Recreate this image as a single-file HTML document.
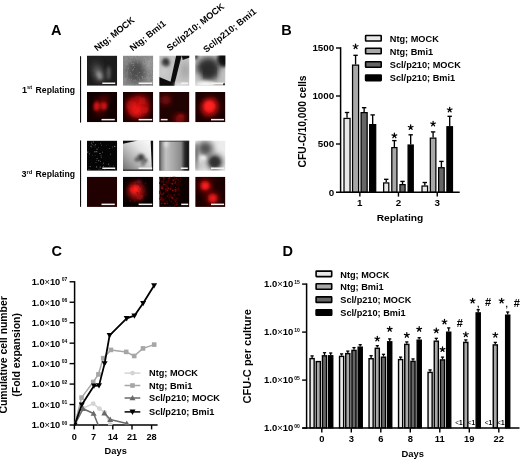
<!DOCTYPE html>
<html><head><meta charset="utf-8"><style>html,body{margin:0;padding:0;background:#fff;width:520px;height:459px;overflow:hidden}svg{display:block;filter:blur(0.35px)}</style></head>
<body><svg width="520" height="459" viewBox="0 0 520 459" font-family="'Liberation Sans', sans-serif" font-weight="bold" fill="#000">
<defs><filter id="b1" x="-50%" y="-50%" width="200%" height="200%"><feGaussianBlur stdDeviation="1.6"/></filter><filter id="b2" x="-50%" y="-50%" width="200%" height="200%"><feGaussianBlur stdDeviation="3"/></filter><filter id="b05" x="-50%" y="-50%" width="200%" height="200%"><feGaussianBlur stdDeviation="0.6"/></filter><clipPath id="c00"><rect x="87" y="55.6" width="30.2" height="30.2"/></clipPath><clipPath id="c01"><rect x="87" y="92" width="30.2" height="30.2"/></clipPath><clipPath id="c02"><rect x="87" y="140.6" width="30.2" height="30.2"/></clipPath><clipPath id="c03"><rect x="87" y="176.7" width="30.2" height="30.2"/></clipPath><clipPath id="c10"><rect x="123" y="55.6" width="30.2" height="30.2"/></clipPath><clipPath id="c11"><rect x="123" y="92" width="30.2" height="30.2"/></clipPath><clipPath id="c12"><rect x="123" y="140.6" width="30.2" height="30.2"/></clipPath><clipPath id="c13"><rect x="123" y="176.7" width="30.2" height="30.2"/></clipPath><clipPath id="c20"><rect x="159.2" y="55.6" width="30.2" height="30.2"/></clipPath><clipPath id="c21"><rect x="159.2" y="92" width="30.2" height="30.2"/></clipPath><clipPath id="c22"><rect x="159.2" y="140.6" width="30.2" height="30.2"/></clipPath><clipPath id="c23"><rect x="159.2" y="176.7" width="30.2" height="30.2"/></clipPath><clipPath id="c30"><rect x="195.2" y="55.6" width="30.2" height="30.2"/></clipPath><clipPath id="c31"><rect x="195.2" y="92" width="30.2" height="30.2"/></clipPath><clipPath id="c32"><rect x="195.2" y="140.6" width="30.2" height="30.2"/></clipPath><clipPath id="c33"><rect x="195.2" y="176.7" width="30.2" height="30.2"/></clipPath><linearGradient id="g12" x1="1" y1="0" x2="0" y2="1"><stop offset="0" stop-color="#ffffff"/><stop offset="0.35" stop-color="#e4e4e4"/><stop offset="0.7" stop-color="#a8a8a8"/><stop offset="1" stop-color="#6c6c6c"/></linearGradient><linearGradient id="g22" x1="0" y1="0" x2="1" y2="0"><stop offset="0" stop-color="#404040"/><stop offset="0.08" stop-color="#8a8a8a"/><stop offset="0.22" stop-color="#c2c2c2"/><stop offset="0.5" stop-color="#a4a4a4"/><stop offset="0.72" stop-color="#8a8a8a"/><stop offset="0.85" stop-color="#2a2a2a"/><stop offset="0.95" stop-color="#161616"/><stop offset="1" stop-color="#303030"/></linearGradient><clipPath id="cp"><rect x="74" y="270" width="90" height="155.3"/></clipPath></defs>
<rect width="520" height="459" fill="#fff"/>
<text x="51" y="35.3" font-size="14.5" >A</text>
<text x="281.3" y="35.4" font-size="14.5" >B</text>
<text x="51.6" y="255.8" font-size="14.5" >C</text>
<text x="282.6" y="255.8" font-size="14.5" >D</text>
<text x="0" y="0" font-size="9.1" transform="translate(97.2,51.4) rotate(-38.5)">Ntg; MOCK</text>
<text x="0" y="0" font-size="9.1" transform="translate(132.8,51.4) rotate(-38.5)">Ntg; Bmi1</text>
<text x="0" y="0" font-size="9.1" transform="translate(169.8,51.4) rotate(-38.5)">Scl/p210; MOCK</text>
<text x="0" y="0" font-size="9.1" transform="translate(206.3,52.9) rotate(-38.5)">Scl/p210; Bmi1</text>
<text x="22" y="92.5" font-size="9">1<tspan font-size="5.7" dy="-3.3">st</tspan></text>
<text x="35.6" y="92.5" font-size="8.9" textLength="39.4" lengthAdjust="spacingAndGlyphs">Replating</text>
<text x="21.5" y="177.2" font-size="9">3<tspan font-size="5.7" dy="-3.3">rd</tspan></text>
<text x="35.6" y="177.2" font-size="8.9" textLength="39.4" lengthAdjust="spacingAndGlyphs">Replating</text>
<rect x="80" y="56.2" width="1.1" height="66.4" fill="#111"/>
<rect x="80" y="140.4" width="1.1" height="66.4" fill="#111"/>
<g clip-path="url(#c00)"><rect x="87" y="55.6" width="30.2" height="30.2" fill="#1c1c1c"/><ellipse cx="95.0" cy="63.6" rx="6" ry="5" fill="#2a2a2a" opacity="1" filter="url(#b2)"/><ellipse cx="98.5" cy="73.6" rx="4" ry="8" fill="#7a7a7a" opacity="1" filter="url(#b2)" transform="rotate(-20 98.5 73.6)"/><ellipse cx="99.5" cy="75.6" rx="2" ry="4" fill="#9a9a9a" opacity="1" filter="url(#b1)" transform="rotate(-20 99.5 75.6)"/><ellipse cx="108.7" cy="73.1" rx="1.8" ry="7" fill="#606060" opacity="1" filter="url(#b1)"/></g>
<rect x="102.3" y="82.5" width="12.900000000000006" height="1.5" fill="#f2f2f2"/>
<g clip-path="url(#c10)"><rect x="123" y="55.6" width="30.2" height="30.2" fill="#8c8c8c"/><ellipse cx="136.0" cy="71.6" rx="10" ry="11" fill="#4e4e4e" opacity="1" filter="url(#b2)"/><ellipse cx="149.0" cy="63.6" rx="4" ry="6" fill="#a4a4a4" opacity="1" filter="url(#b2)"/><rect x="130.1" y="71.9" width="0.9" height="0.9" fill="#a0a0a0" opacity="0.45"/><rect x="141.8" y="57.6" width="0.8" height="0.8" fill="#a0a0a0" opacity="0.45"/><rect x="130.8" y="62.6" width="1.2" height="1.2" fill="#a0a0a0" opacity="0.45"/><rect x="139.2" y="72.1" width="1.0" height="1.0" fill="#b0b0b0" opacity="0.45"/><rect x="130.0" y="60.1" width="1.2" height="1.2" fill="#a0a0a0" opacity="0.45"/><rect x="145.2" y="75.7" width="0.8" height="0.8" fill="#6a6a6a" opacity="0.45"/><rect x="132.0" y="56.5" width="1.1" height="1.1" fill="#a0a0a0" opacity="0.45"/><rect x="140.8" y="83.2" width="1.0" height="1.0" fill="#a0a0a0" opacity="0.45"/><rect x="134.8" y="79.6" width="1.0" height="1.0" fill="#b0b0b0" opacity="0.45"/><rect x="149.4" y="58.5" width="0.9" height="0.9" fill="#b0b0b0" opacity="0.45"/><rect x="130.7" y="75.8" width="1.1" height="1.1" fill="#7c7c7c" opacity="0.45"/><rect x="135.6" y="80.6" width="1.0" height="1.0" fill="#a0a0a0" opacity="0.45"/><rect x="140.5" y="82.7" width="1.1" height="1.1" fill="#6a6a6a" opacity="0.45"/><rect x="148.7" y="85.3" width="1.1" height="1.1" fill="#b0b0b0" opacity="0.45"/><rect x="144.0" y="65.4" width="1.0" height="1.0" fill="#6a6a6a" opacity="0.45"/><rect x="144.4" y="61.9" width="1.1" height="1.1" fill="#7c7c7c" opacity="0.45"/><rect x="131.5" y="57.5" width="1.1" height="1.1" fill="#a0a0a0" opacity="0.45"/><rect x="125.7" y="79.6" width="1.0" height="1.0" fill="#b0b0b0" opacity="0.45"/><rect x="123.6" y="68.4" width="1.0" height="1.0" fill="#6a6a6a" opacity="0.45"/><rect x="124.3" y="74.0" width="0.8" height="0.8" fill="#7c7c7c" opacity="0.45"/><rect x="139.5" y="83.3" width="0.9" height="0.9" fill="#b0b0b0" opacity="0.45"/><rect x="153.0" y="64.9" width="0.8" height="0.8" fill="#6a6a6a" opacity="0.45"/><rect x="151.5" y="84.7" width="0.9" height="0.9" fill="#7c7c7c" opacity="0.45"/><rect x="127.7" y="56.9" width="1.1" height="1.1" fill="#7c7c7c" opacity="0.45"/><rect x="133.8" y="59.7" width="1.1" height="1.1" fill="#a0a0a0" opacity="0.45"/><rect x="136.8" y="71.2" width="1.1" height="1.1" fill="#6a6a6a" opacity="0.45"/><rect x="141.6" y="83.8" width="1.0" height="1.0" fill="#a0a0a0" opacity="0.45"/><rect x="142.0" y="77.1" width="1.2" height="1.2" fill="#a0a0a0" opacity="0.45"/><rect x="152.3" y="71.2" width="1.0" height="1.0" fill="#6a6a6a" opacity="0.45"/><rect x="146.7" y="85.2" width="0.9" height="0.9" fill="#a0a0a0" opacity="0.45"/><rect x="141.5" y="74.6" width="0.8" height="0.8" fill="#7c7c7c" opacity="0.45"/><rect x="137.0" y="76.0" width="0.9" height="0.9" fill="#7c7c7c" opacity="0.45"/><rect x="145.1" y="56.3" width="0.8" height="0.8" fill="#6a6a6a" opacity="0.45"/><rect x="151.9" y="63.1" width="1.0" height="1.0" fill="#7c7c7c" opacity="0.45"/><rect x="128.3" y="61.2" width="1.1" height="1.1" fill="#7c7c7c" opacity="0.45"/><rect x="132.0" y="66.9" width="1.1" height="1.1" fill="#6a6a6a" opacity="0.45"/><rect x="152.1" y="76.1" width="0.9" height="0.9" fill="#b0b0b0" opacity="0.45"/><rect x="142.6" y="63.7" width="0.9" height="0.9" fill="#a0a0a0" opacity="0.45"/><rect x="142.5" y="58.5" width="1.0" height="1.0" fill="#7c7c7c" opacity="0.45"/><rect x="143.2" y="62.3" width="1.1" height="1.1" fill="#b0b0b0" opacity="0.45"/><rect x="125.4" y="77.9" width="0.9" height="0.9" fill="#a0a0a0" opacity="0.45"/><rect x="131.1" y="79.2" width="0.8" height="0.8" fill="#b0b0b0" opacity="0.45"/><rect x="132.5" y="80.7" width="1.0" height="1.0" fill="#7c7c7c" opacity="0.45"/><rect x="133.2" y="80.4" width="0.8" height="0.8" fill="#7c7c7c" opacity="0.45"/><rect x="140.7" y="68.2" width="1.0" height="1.0" fill="#7c7c7c" opacity="0.45"/><rect x="136.9" y="74.6" width="0.9" height="0.9" fill="#a0a0a0" opacity="0.45"/><rect x="124.1" y="68.0" width="0.9" height="0.9" fill="#a0a0a0" opacity="0.45"/><rect x="151.3" y="82.0" width="1.2" height="1.2" fill="#a0a0a0" opacity="0.45"/><rect x="139.8" y="85.2" width="1.1" height="1.1" fill="#6a6a6a" opacity="0.45"/><rect x="145.4" y="80.7" width="1.1" height="1.1" fill="#7c7c7c" opacity="0.45"/><rect x="139.3" y="82.3" width="1.1" height="1.1" fill="#7c7c7c" opacity="0.45"/><rect x="126.6" y="62.9" width="0.8" height="0.8" fill="#b0b0b0" opacity="0.45"/><rect x="149.9" y="82.6" width="1.0" height="1.0" fill="#6a6a6a" opacity="0.45"/><rect x="137.4" y="59.2" width="1.0" height="1.0" fill="#b0b0b0" opacity="0.45"/><rect x="142.9" y="71.3" width="1.0" height="1.0" fill="#6a6a6a" opacity="0.45"/><rect x="133.2" y="63.2" width="1.1" height="1.1" fill="#a0a0a0" opacity="0.45"/><rect x="147.3" y="57.4" width="0.9" height="0.9" fill="#6a6a6a" opacity="0.45"/><rect x="139.0" y="80.1" width="0.9" height="0.9" fill="#7c7c7c" opacity="0.45"/><rect x="150.7" y="79.8" width="1.1" height="1.1" fill="#6a6a6a" opacity="0.45"/><rect x="137.6" y="72.7" width="1.0" height="1.0" fill="#7c7c7c" opacity="0.45"/><rect x="130.4" y="74.1" width="1.0" height="1.0" fill="#6a6a6a" opacity="0.45"/><rect x="137.2" y="78.9" width="0.8" height="0.8" fill="#6a6a6a" opacity="0.45"/><rect x="146.3" y="57.0" width="0.8" height="0.8" fill="#a0a0a0" opacity="0.45"/><rect x="152.2" y="81.2" width="0.8" height="0.8" fill="#a0a0a0" opacity="0.45"/><rect x="132.5" y="65.0" width="0.9" height="0.9" fill="#a0a0a0" opacity="0.45"/><rect x="140.6" y="66.4" width="0.9" height="0.9" fill="#7c7c7c" opacity="0.45"/><rect x="135.9" y="59.4" width="0.8" height="0.8" fill="#a0a0a0" opacity="0.45"/><rect x="146.9" y="72.6" width="0.8" height="0.8" fill="#a0a0a0" opacity="0.45"/><rect x="141.1" y="79.1" width="1.0" height="1.0" fill="#6a6a6a" opacity="0.45"/><rect x="141.7" y="68.5" width="0.9" height="0.9" fill="#a0a0a0" opacity="0.45"/><rect x="145.8" y="65.0" width="1.2" height="1.2" fill="#a0a0a0" opacity="0.45"/><rect x="136.8" y="63.0" width="1.0" height="1.0" fill="#6a6a6a" opacity="0.45"/><rect x="147.1" y="62.3" width="0.9" height="0.9" fill="#6a6a6a" opacity="0.45"/><rect x="151.1" y="66.8" width="1.2" height="1.2" fill="#7c7c7c" opacity="0.45"/><rect x="126.6" y="76.3" width="1.2" height="1.2" fill="#a0a0a0" opacity="0.45"/><rect x="143.0" y="77.6" width="1.0" height="1.0" fill="#6a6a6a" opacity="0.45"/><rect x="147.3" y="77.1" width="1.0" height="1.0" fill="#b0b0b0" opacity="0.45"/><rect x="146.2" y="56.9" width="0.8" height="0.8" fill="#6a6a6a" opacity="0.45"/><rect x="142.8" y="66.9" width="1.1" height="1.1" fill="#7c7c7c" opacity="0.45"/><rect x="148.2" y="59.2" width="1.1" height="1.1" fill="#a0a0a0" opacity="0.45"/><rect x="148.1" y="84.2" width="1.0" height="1.0" fill="#6a6a6a" opacity="0.45"/><rect x="124.1" y="78.6" width="1.0" height="1.0" fill="#b0b0b0" opacity="0.45"/><rect x="126.2" y="78.1" width="1.2" height="1.2" fill="#6a6a6a" opacity="0.45"/><rect x="139.5" y="81.7" width="0.9" height="0.9" fill="#6a6a6a" opacity="0.45"/><rect x="130.3" y="61.0" width="0.9" height="0.9" fill="#a0a0a0" opacity="0.45"/><rect x="130.6" y="73.6" width="1.2" height="1.2" fill="#a0a0a0" opacity="0.45"/><rect x="152.0" y="66.9" width="0.9" height="0.9" fill="#a0a0a0" opacity="0.45"/><rect x="148.3" y="84.6" width="1.0" height="1.0" fill="#a0a0a0" opacity="0.45"/><rect x="127.7" y="67.6" width="1.2" height="1.2" fill="#b0b0b0" opacity="0.45"/><rect x="125.9" y="78.0" width="1.2" height="1.2" fill="#a0a0a0" opacity="0.45"/><rect x="140.6" y="81.3" width="0.9" height="0.9" fill="#b0b0b0" opacity="0.45"/><rect x="127.4" y="71.1" width="1.2" height="1.2" fill="#7c7c7c" opacity="0.45"/><rect x="143.1" y="81.3" width="1.0" height="1.0" fill="#7c7c7c" opacity="0.45"/><rect x="149.7" y="64.8" width="0.9" height="0.9" fill="#a0a0a0" opacity="0.45"/><rect x="129.0" y="72.7" width="0.9" height="0.9" fill="#a0a0a0" opacity="0.45"/><rect x="146.2" y="59.9" width="1.2" height="1.2" fill="#a0a0a0" opacity="0.45"/><rect x="144.0" y="61.8" width="1.0" height="1.0" fill="#6a6a6a" opacity="0.45"/><rect x="137.4" y="77.2" width="1.1" height="1.1" fill="#a0a0a0" opacity="0.45"/><rect x="146.5" y="82.1" width="0.8" height="0.8" fill="#b0b0b0" opacity="0.45"/><rect x="149.7" y="75.0" width="1.1" height="1.1" fill="#6a6a6a" opacity="0.45"/><rect x="151.8" y="81.2" width="0.9" height="0.9" fill="#b0b0b0" opacity="0.45"/><rect x="146.3" y="59.7" width="1.0" height="1.0" fill="#6a6a6a" opacity="0.45"/><rect x="150.0" y="63.3" width="1.1" height="1.1" fill="#7c7c7c" opacity="0.45"/><rect x="128.5" y="58.3" width="1.1" height="1.1" fill="#6a6a6a" opacity="0.45"/><rect x="125.8" y="80.6" width="0.9" height="0.9" fill="#7c7c7c" opacity="0.45"/><rect x="136.6" y="77.6" width="0.9" height="0.9" fill="#6a6a6a" opacity="0.45"/><rect x="133.0" y="68.7" width="1.0" height="1.0" fill="#b0b0b0" opacity="0.45"/><rect x="142.3" y="77.9" width="1.0" height="1.0" fill="#b0b0b0" opacity="0.45"/><rect x="139.3" y="59.2" width="0.9" height="0.9" fill="#a0a0a0" opacity="0.45"/><rect x="126.4" y="82.2" width="1.2" height="1.2" fill="#6a6a6a" opacity="0.45"/><rect x="138.8" y="76.6" width="1.1" height="1.1" fill="#7c7c7c" opacity="0.45"/><rect x="145.7" y="64.5" width="1.1" height="1.1" fill="#7c7c7c" opacity="0.45"/><rect x="126.2" y="83.9" width="0.9" height="0.9" fill="#6a6a6a" opacity="0.45"/><rect x="143.0" y="70.9" width="0.8" height="0.8" fill="#7c7c7c" opacity="0.45"/><rect x="143.4" y="72.6" width="0.9" height="0.9" fill="#b0b0b0" opacity="0.45"/><rect x="128.4" y="82.3" width="1.1" height="1.1" fill="#6a6a6a" opacity="0.45"/><rect x="126.2" y="72.4" width="1.2" height="1.2" fill="#a0a0a0" opacity="0.45"/><rect x="139.6" y="75.0" width="1.0" height="1.0" fill="#7c7c7c" opacity="0.45"/><rect x="146.5" y="76.8" width="0.8" height="0.8" fill="#b0b0b0" opacity="0.45"/><rect x="145.6" y="71.9" width="1.1" height="1.1" fill="#7c7c7c" opacity="0.45"/><rect x="126.0" y="63.7" width="0.8" height="0.8" fill="#b0b0b0" opacity="0.45"/><rect x="124.3" y="70.7" width="0.9" height="0.9" fill="#7c7c7c" opacity="0.45"/><rect x="149.3" y="84.0" width="1.0" height="1.0" fill="#6a6a6a" opacity="0.45"/><rect x="133.6" y="81.0" width="0.8" height="0.8" fill="#7c7c7c" opacity="0.45"/><rect x="140.7" y="76.0" width="1.0" height="1.0" fill="#6a6a6a" opacity="0.45"/><rect x="128.5" y="61.3" width="1.0" height="1.0" fill="#a0a0a0" opacity="0.45"/><rect x="147.5" y="78.1" width="1.0" height="1.0" fill="#b0b0b0" opacity="0.45"/><rect x="148.8" y="79.5" width="1.0" height="1.0" fill="#b0b0b0" opacity="0.45"/><rect x="140.1" y="61.7" width="0.9" height="0.9" fill="#7c7c7c" opacity="0.45"/><rect x="123.9" y="79.7" width="1.2" height="1.2" fill="#a0a0a0" opacity="0.45"/><rect x="132.5" y="82.8" width="0.9" height="0.9" fill="#a0a0a0" opacity="0.45"/><rect x="152.3" y="76.2" width="0.9" height="0.9" fill="#a0a0a0" opacity="0.45"/><rect x="123.9" y="61.3" width="1.1" height="1.1" fill="#6a6a6a" opacity="0.45"/><rect x="146.1" y="75.5" width="1.0" height="1.0" fill="#a0a0a0" opacity="0.45"/><rect x="129.0" y="79.1" width="0.9" height="0.9" fill="#a0a0a0" opacity="0.45"/><rect x="126.3" y="64.1" width="1.1" height="1.1" fill="#b0b0b0" opacity="0.45"/><rect x="127.1" y="79.4" width="1.0" height="1.0" fill="#6a6a6a" opacity="0.45"/><rect x="123.8" y="74.2" width="1.0" height="1.0" fill="#a0a0a0" opacity="0.45"/><rect x="139.2" y="83.5" width="0.9" height="0.9" fill="#7c7c7c" opacity="0.45"/><rect x="143.8" y="59.6" width="1.1" height="1.1" fill="#6a6a6a" opacity="0.45"/><rect x="144.5" y="77.8" width="0.9" height="0.9" fill="#b0b0b0" opacity="0.45"/><rect x="151.0" y="81.4" width="1.0" height="1.0" fill="#b0b0b0" opacity="0.45"/><rect x="137.6" y="58.9" width="0.8" height="0.8" fill="#6a6a6a" opacity="0.45"/><rect x="148.4" y="76.8" width="1.0" height="1.0" fill="#a0a0a0" opacity="0.45"/><rect x="144.0" y="71.7" width="1.0" height="1.0" fill="#a0a0a0" opacity="0.45"/><rect x="132.1" y="69.5" width="1.1" height="1.1" fill="#a0a0a0" opacity="0.45"/><rect x="136.2" y="69.3" width="0.8" height="0.8" fill="#7c7c7c" opacity="0.45"/><rect x="134.0" y="66.7" width="1.0" height="1.0" fill="#a0a0a0" opacity="0.45"/><rect x="129.7" y="55.7" width="0.9" height="0.9" fill="#7c7c7c" opacity="0.45"/><rect x="127.3" y="69.4" width="0.9" height="0.9" fill="#b0b0b0" opacity="0.45"/><rect x="123.7" y="73.1" width="1.0" height="1.0" fill="#6a6a6a" opacity="0.45"/><rect x="127.2" y="73.9" width="1.0" height="1.0" fill="#b0b0b0" opacity="0.45"/><rect x="124.8" y="56.3" width="1.0" height="1.0" fill="#a0a0a0" opacity="0.45"/><rect x="124.0" y="77.0" width="0.9" height="0.9" fill="#6a6a6a" opacity="0.45"/><rect x="134.9" y="56.4" width="1.2" height="1.2" fill="#b0b0b0" opacity="0.45"/><rect x="130.2" y="67.3" width="0.9" height="0.9" fill="#7c7c7c" opacity="0.45"/><rect x="141.7" y="66.0" width="0.8" height="0.8" fill="#6a6a6a" opacity="0.45"/><rect x="147.2" y="64.3" width="1.2" height="1.2" fill="#a0a0a0" opacity="0.45"/><rect x="146.7" y="84.4" width="1.0" height="1.0" fill="#7c7c7c" opacity="0.45"/><rect x="123.9" y="65.7" width="1.2" height="1.2" fill="#7c7c7c" opacity="0.45"/><rect x="125.8" y="76.1" width="1.2" height="1.2" fill="#6a6a6a" opacity="0.45"/><rect x="126.1" y="76.0" width="0.8" height="0.8" fill="#6a6a6a" opacity="0.45"/><rect x="137.5" y="61.3" width="1.0" height="1.0" fill="#7c7c7c" opacity="0.45"/><rect x="129.0" y="84.8" width="1.0" height="1.0" fill="#a0a0a0" opacity="0.45"/><rect x="150.5" y="83.8" width="0.8" height="0.8" fill="#7c7c7c" opacity="0.45"/><rect x="145.5" y="74.5" width="1.0" height="1.0" fill="#7c7c7c" opacity="0.45"/><rect x="128.5" y="68.0" width="1.0" height="1.0" fill="#7c7c7c" opacity="0.45"/><rect x="139.1" y="79.0" width="1.0" height="1.0" fill="#a0a0a0" opacity="0.45"/><rect x="148.1" y="72.2" width="1.2" height="1.2" fill="#7c7c7c" opacity="0.45"/><rect x="147.1" y="68.8" width="1.0" height="1.0" fill="#a0a0a0" opacity="0.45"/><rect x="133.4" y="80.2" width="1.0" height="1.0" fill="#a0a0a0" opacity="0.45"/><rect x="151.5" y="56.9" width="0.9" height="0.9" fill="#6a6a6a" opacity="0.45"/><rect x="147.7" y="58.4" width="1.1" height="1.1" fill="#6a6a6a" opacity="0.45"/><rect x="132.6" y="73.6" width="1.1" height="1.1" fill="#6a6a6a" opacity="0.45"/><rect x="149.4" y="81.8" width="1.0" height="1.0" fill="#7c7c7c" opacity="0.45"/><rect x="152.9" y="55.6" width="0.9" height="0.9" fill="#6a6a6a" opacity="0.45"/><rect x="133.2" y="64.9" width="1.0" height="1.0" fill="#b0b0b0" opacity="0.45"/><rect x="130.2" y="57.1" width="0.9" height="0.9" fill="#b0b0b0" opacity="0.45"/><rect x="140.6" y="55.9" width="0.9" height="0.9" fill="#b0b0b0" opacity="0.45"/><rect x="129.6" y="72.5" width="1.0" height="1.0" fill="#7c7c7c" opacity="0.45"/><rect x="146.7" y="71.7" width="0.9" height="0.9" fill="#b0b0b0" opacity="0.45"/><rect x="141.7" y="56.8" width="1.1" height="1.1" fill="#6a6a6a" opacity="0.45"/><rect x="148.8" y="58.6" width="1.2" height="1.2" fill="#7c7c7c" opacity="0.45"/><rect x="125.6" y="69.6" width="0.9" height="0.9" fill="#6a6a6a" opacity="0.45"/><rect x="142.3" y="78.4" width="1.1" height="1.1" fill="#7c7c7c" opacity="0.45"/><rect x="135.1" y="75.4" width="1.1" height="1.1" fill="#7c7c7c" opacity="0.45"/><rect x="148.1" y="73.4" width="1.1" height="1.1" fill="#b0b0b0" opacity="0.45"/><rect x="126.5" y="55.8" width="0.9" height="0.9" fill="#6a6a6a" opacity="0.45"/><rect x="133.2" y="61.4" width="1.1" height="1.1" fill="#7c7c7c" opacity="0.45"/><rect x="135.7" y="75.1" width="1.0" height="1.0" fill="#b0b0b0" opacity="0.45"/><rect x="130.5" y="80.7" width="0.8" height="0.8" fill="#b0b0b0" opacity="0.45"/><rect x="135.9" y="58.1" width="0.9" height="0.9" fill="#b0b0b0" opacity="0.45"/><rect x="145.5" y="61.8" width="0.9" height="0.9" fill="#a0a0a0" opacity="0.45"/><rect x="150.9" y="71.7" width="1.0" height="1.0" fill="#b0b0b0" opacity="0.45"/><rect x="150.1" y="84.1" width="1.0" height="1.0" fill="#a0a0a0" opacity="0.45"/><rect x="137.1" y="73.2" width="0.8" height="0.8" fill="#6a6a6a" opacity="0.45"/><rect x="128.5" y="58.5" width="1.1" height="1.1" fill="#7c7c7c" opacity="0.45"/><rect x="138.1" y="57.4" width="1.0" height="1.0" fill="#b0b0b0" opacity="0.45"/><rect x="145.4" y="63.9" width="1.0" height="1.0" fill="#7c7c7c" opacity="0.45"/><rect x="137.0" y="61.5" width="1.1" height="1.1" fill="#b0b0b0" opacity="0.45"/><rect x="126.1" y="64.6" width="1.0" height="1.0" fill="#6a6a6a" opacity="0.45"/><rect x="129.2" y="70.2" width="1.1" height="1.1" fill="#7c7c7c" opacity="0.45"/><rect x="152.3" y="85.0" width="1.2" height="1.2" fill="#7c7c7c" opacity="0.45"/><rect x="151.3" y="68.5" width="1.2" height="1.2" fill="#a0a0a0" opacity="0.45"/><rect x="138.8" y="71.9" width="0.9" height="0.9" fill="#7c7c7c" opacity="0.45"/><rect x="131.6" y="69.5" width="1.2" height="1.2" fill="#7c7c7c" opacity="0.45"/><rect x="145.4" y="83.5" width="1.0" height="1.0" fill="#6a6a6a" opacity="0.45"/><rect x="126.9" y="71.5" width="1.0" height="1.0" fill="#b0b0b0" opacity="0.45"/><rect x="151.5" y="55.7" width="1.2" height="1.2" fill="#a0a0a0" opacity="0.45"/><rect x="133.6" y="84.6" width="0.9" height="0.9" fill="#6a6a6a" opacity="0.45"/><rect x="137.7" y="62.8" width="0.9" height="0.9" fill="#7c7c7c" opacity="0.45"/><rect x="148.1" y="73.7" width="1.1" height="1.1" fill="#a0a0a0" opacity="0.45"/><rect x="132.3" y="63.0" width="1.1" height="1.1" fill="#a0a0a0" opacity="0.45"/><rect x="144.7" y="65.8" width="0.8" height="0.8" fill="#6a6a6a" opacity="0.45"/><rect x="141.8" y="75.9" width="1.2" height="1.2" fill="#b0b0b0" opacity="0.45"/><rect x="151.6" y="77.9" width="1.1" height="1.1" fill="#a0a0a0" opacity="0.45"/><rect x="138.3" y="80.5" width="1.0" height="1.0" fill="#7c7c7c" opacity="0.45"/><rect x="123.5" y="57.0" width="1.0" height="1.0" fill="#6a6a6a" opacity="0.45"/><rect x="149.9" y="82.8" width="1.0" height="1.0" fill="#a0a0a0" opacity="0.45"/><rect x="134.1" y="74.6" width="0.9" height="0.9" fill="#6a6a6a" opacity="0.45"/></g>
<rect x="138.6" y="82.5" width="13.599999999999994" height="1.5" fill="#f2f2f2"/>
<g clip-path="url(#c20)"><rect x="159.2" y="55.6" width="30.2" height="30.2" fill="#c2c2c2"/><ellipse cx="165.7" cy="62.6" rx="4" ry="4.5" fill="#2e2e2e" opacity="1" filter="url(#b1)"/><ellipse cx="163.2" cy="71.6" rx="4" ry="6" fill="#d0d0d0" opacity="1" filter="url(#b2)"/><polygon points="176.2,55.6 181.7,55.6 174.7,83.1 170.2,83.1" fill="#0c0c0c"/><polygon points="159.2,77.1 171.2,82.1 175.2,83.4 174.2,86.1 159.2,86.1" fill="#0c0c0c"/><polygon points="181.7,55.6 189.7,55.6 189.7,57.6 182.7,60.1" fill="#0c0c0c"/><ellipse cx="185.2" cy="70.6" rx="3" ry="8" fill="#9a9a9a" opacity="1" filter="url(#b2)"/><ellipse cx="181.2" cy="84.6" rx="8" ry="1.6" fill="#e8e8e8" opacity="1" filter="url(#b1)"/></g>
<rect x="181.2" y="82.5" width="7.0" height="1.5" fill="#f2f2f2"/>
<g clip-path="url(#c30)"><rect x="195.2" y="55.6" width="30.2" height="30.2" fill="#c0c0c0"/><ellipse cx="223.2" cy="59.6" rx="6" ry="8" fill="#080808" opacity="1" filter="url(#b1)"/><ellipse cx="195.7" cy="56.6" rx="2" ry="3" fill="#202020" opacity="1" filter="url(#b1)"/><ellipse cx="208.7" cy="69.1" rx="12" ry="11.5" fill="#363636" opacity="1" filter="url(#b2)"/><ellipse cx="207.2" cy="69.6" rx="7" ry="7" fill="#2a2a2a" opacity="1" filter="url(#b2)"/><ellipse cx="205.2" cy="84.1" rx="10" ry="3" fill="#f4f4f4" opacity="1" filter="url(#b1)"/><ellipse cx="197.7" cy="77.6" rx="2.5" ry="5" fill="#d8d8d8" opacity="1" filter="url(#b2)"/><ellipse cx="222.2" cy="73.6" rx="2.5" ry="6" fill="#d0d0d0" opacity="1" filter="url(#b2)"/></g>
<rect x="211" y="82.5" width="13" height="1.5" fill="#f2f2f2"/>
<circle cx="224.0" cy="84.2" r="1" fill="#222"/>
<g clip-path="url(#c01)"><rect x="87" y="92" width="30.2" height="30.2" fill="#120000"/><ellipse cx="97.0" cy="106.5" rx="3.4" ry="5" fill="#ec1414" opacity="1" filter="url(#b1)"/><ellipse cx="103.6" cy="106.0" rx="3.6" ry="4.6" fill="#d81212" opacity="1" filter="url(#b1)"/><ellipse cx="105.0" cy="99.5" rx="3" ry="3" fill="#a01010" opacity="1" filter="url(#b2)"/><ellipse cx="99.0" cy="101.0" rx="3" ry="3" fill="#800808" opacity="1" filter="url(#b2)"/><ellipse cx="100.0" cy="112.0" rx="5" ry="3" fill="#600404" opacity="1" filter="url(#b2)"/></g>
<rect x="101.5" y="118.9" width="13.299999999999997" height="1.5" fill="#f2f2f2"/>
<g clip-path="url(#c11)"><rect x="123" y="92" width="30.2" height="30.2" fill="#1c0000"/><ellipse cx="138.0" cy="107.0" rx="11" ry="11" fill="#b80e0e" opacity="1" filter="url(#b2)"/><ellipse cx="136.0" cy="110.0" rx="6" ry="5" fill="#ff1a1a" opacity="1" filter="url(#b2)"/><ellipse cx="142.0" cy="101.0" rx="4" ry="4" fill="#c81010" opacity="1" filter="url(#b2)"/><ellipse cx="131.0" cy="105.0" rx="3" ry="5" fill="#d01212" opacity="1" filter="url(#b2)"/><ellipse cx="145.0" cy="110.0" rx="3" ry="3" fill="#c01010" opacity="1" filter="url(#b1)"/></g>
<rect x="138.6" y="118.9" width="13.599999999999994" height="1.5" fill="#f2f2f2"/>
<g clip-path="url(#c21)"><rect x="159.2" y="92" width="30.2" height="30.2" fill="#200202"/><ellipse cx="165.7" cy="100.0" rx="4" ry="4" fill="#b01414" opacity="1" filter="url(#b2)"/><ellipse cx="179.7" cy="119.0" rx="5" ry="4" fill="#c41010" opacity="1" filter="url(#b2)"/><ellipse cx="181.2" cy="116.0" rx="3" ry="2" fill="#901010" opacity="1" filter="url(#b1)"/></g>
<rect x="160.8" y="118.9" width="6.799999999999983" height="1.5" fill="#f2f2f2"/>
<g clip-path="url(#c31)"><rect x="195.2" y="92" width="30.2" height="30.2" fill="#1a0000"/><ellipse cx="209.7" cy="107.0" rx="8" ry="9" fill="#f41414" opacity="1" filter="url(#b2)" transform="rotate(30 209.7 107.0)"/><ellipse cx="209.2" cy="106.0" rx="5" ry="5" fill="#ff2424" opacity="1" filter="url(#b1)"/></g>
<rect x="211" y="118.9" width="13" height="1.5" fill="#f2f2f2"/>
<g clip-path="url(#c02)"><rect x="87" y="140.6" width="30.2" height="30.2" fill="#050505"/><rect x="107.5" y="170.4" width="0.9" height="0.9" fill="#909090" opacity="1"/><rect x="110.2" y="153.9" width="0.7" height="0.7" fill="#707070" opacity="1"/><rect x="100.6" y="169.4" width="0.7" height="0.7" fill="#707070" opacity="1"/><rect x="91.2" y="141.7" width="0.8" height="0.8" fill="#555" opacity="1"/><rect x="111.8" y="168.5" width="0.9" height="0.9" fill="#3a3a3a" opacity="1"/><rect x="96.5" y="158.5" width="0.7" height="0.7" fill="#555" opacity="1"/><rect x="95.4" y="161.9" width="1.1" height="1.1" fill="#3a3a3a" opacity="1"/><rect x="100.1" y="142.9" width="0.6" height="0.6" fill="#909090" opacity="1"/><rect x="113.9" y="169.4" width="0.9" height="0.9" fill="#555" opacity="1"/><rect x="96.3" y="151.0" width="0.9" height="0.9" fill="#909090" opacity="1"/><rect x="96.5" y="148.7" width="1.1" height="1.1" fill="#707070" opacity="1"/><rect x="96.5" y="152.4" width="0.7" height="0.7" fill="#555" opacity="1"/><rect x="99.5" y="153.0" width="1.0" height="1.0" fill="#909090" opacity="1"/><rect x="93.9" y="146.6" width="0.6" height="0.6" fill="#3a3a3a" opacity="1"/><rect x="109.3" y="165.7" width="0.9" height="0.9" fill="#3a3a3a" opacity="1"/><rect x="115.3" y="169.8" width="0.9" height="0.9" fill="#909090" opacity="1"/><rect x="95.0" y="155.1" width="0.7" height="0.7" fill="#3a3a3a" opacity="1"/><rect x="92.2" y="155.2" width="0.7" height="0.7" fill="#555" opacity="1"/><rect x="114.2" y="145.9" width="1.1" height="1.1" fill="#909090" opacity="1"/><rect x="106.4" y="144.9" width="0.6" height="0.6" fill="#555" opacity="1"/><rect x="96.3" y="160.1" width="0.7" height="0.7" fill="#555" opacity="1"/><rect x="88.5" y="169.4" width="0.9" height="0.9" fill="#909090" opacity="1"/><rect x="110.4" y="153.6" width="0.7" height="0.7" fill="#3a3a3a" opacity="1"/><rect x="95.4" y="144.5" width="0.7" height="0.7" fill="#555" opacity="1"/><rect x="98.5" y="168.7" width="0.9" height="0.9" fill="#555" opacity="1"/><rect x="87.2" y="151.7" width="0.7" height="0.7" fill="#909090" opacity="1"/><rect x="94.4" y="151.2" width="1.1" height="1.1" fill="#909090" opacity="1"/><rect x="90.1" y="166.0" width="0.8" height="0.8" fill="#707070" opacity="1"/><rect x="102.9" y="166.2" width="0.8" height="0.8" fill="#909090" opacity="1"/><rect x="100.9" y="156.7" width="0.8" height="0.8" fill="#909090" opacity="1"/><rect x="112.0" y="146.6" width="0.9" height="0.9" fill="#555" opacity="1"/><rect x="96.0" y="166.4" width="1.1" height="1.1" fill="#707070" opacity="1"/><rect x="95.0" y="146.7" width="0.6" height="0.6" fill="#3a3a3a" opacity="1"/><rect x="99.3" y="166.8" width="0.7" height="0.7" fill="#3a3a3a" opacity="1"/><rect x="91.7" y="144.3" width="0.8" height="0.8" fill="#707070" opacity="1"/><rect x="102.8" y="163.6" width="0.6" height="0.6" fill="#909090" opacity="1"/><rect x="96.8" y="158.3" width="0.7" height="0.7" fill="#909090" opacity="1"/><rect x="102.2" y="151.8" width="0.8" height="0.8" fill="#707070" opacity="1"/><rect x="108.1" y="163.7" width="1.0" height="1.0" fill="#707070" opacity="1"/><rect x="112.9" y="165.7" width="0.7" height="0.7" fill="#707070" opacity="1"/><rect x="95.1" y="144.3" width="0.9" height="0.9" fill="#707070" opacity="1"/><rect x="108.9" y="148.1" width="0.8" height="0.8" fill="#707070" opacity="1"/><rect x="100.6" y="154.9" width="0.9" height="0.9" fill="#555" opacity="1"/><rect x="116.6" y="156.5" width="0.8" height="0.8" fill="#3a3a3a" opacity="1"/><rect x="89.1" y="153.4" width="1.0" height="1.0" fill="#707070" opacity="1"/><rect x="88.8" y="166.2" width="0.8" height="0.8" fill="#3a3a3a" opacity="1"/><rect x="98.0" y="147.0" width="0.9" height="0.9" fill="#3a3a3a" opacity="1"/><rect x="99.9" y="166.6" width="1.0" height="1.0" fill="#707070" opacity="1"/><rect x="87.4" y="151.8" width="0.8" height="0.8" fill="#909090" opacity="1"/><rect x="98.2" y="160.2" width="1.0" height="1.0" fill="#909090" opacity="1"/><rect x="91.4" y="147.2" width="0.8" height="0.8" fill="#3a3a3a" opacity="1"/><rect x="91.2" y="143.0" width="0.8" height="0.8" fill="#707070" opacity="1"/><rect x="92.9" y="141.5" width="1.0" height="1.0" fill="#707070" opacity="1"/><rect x="103.0" y="162.7" width="1.0" height="1.0" fill="#555" opacity="1"/><rect x="100.2" y="161.1" width="0.7" height="0.7" fill="#909090" opacity="1"/><rect x="93.7" y="144.8" width="0.8" height="0.8" fill="#555" opacity="1"/><rect x="90.5" y="145.8" width="1.0" height="1.0" fill="#909090" opacity="1"/><rect x="87.8" y="151.1" width="0.6" height="0.6" fill="#555" opacity="1"/><rect x="101.2" y="144.8" width="0.7" height="0.7" fill="#909090" opacity="1"/><rect x="104.6" y="169.1" width="0.7" height="0.7" fill="#707070" opacity="1"/></g>
<rect x="102.3" y="167.5" width="12.900000000000006" height="1.5" fill="#f2f2f2"/>
<g clip-path="url(#c12)"><rect x="123" y="140.6" width="30.2" height="30.2" fill="#bbb"/><rect x="123" y="140.6" width="30.2" height="30.2" fill="url(#g12)"/><polygon points="123.0,140.6 138.0,140.6 123.0,143.8" fill="#0c0c0c"/><polygon points="150.6,140.6 153.5,140.6 153.5,171.1 152.0,171.1" fill="#101010"/><rect x="123" y="169.6" width="30.2" height="1.5" fill="#222"/><ellipse cx="141.0" cy="157.6" rx="3.5" ry="3.5" fill="#3a3a3a" opacity="1" filter="url(#b1)"/><ellipse cx="137.0" cy="159.6" rx="2.5" ry="2" fill="#555" opacity="1" filter="url(#b1)"/><ellipse cx="145.0" cy="160.6" rx="2.5" ry="2" fill="#4a4a4a" opacity="1" filter="url(#b1)"/><ellipse cx="143.0" cy="163.6" rx="2" ry="2" fill="#606060" opacity="1" filter="url(#b1)"/></g>
<rect x="138.6" y="167.5" width="13.599999999999994" height="1.5" fill="#f2f2f2"/>
<g clip-path="url(#c22)"><rect x="159.2" y="140.6" width="30.2" height="30.2" fill="#999"/><rect x="159.2" y="140.6" width="30.2" height="30.2" fill="url(#g22)"/><ellipse cx="166.2" cy="143.6" rx="2" ry="4" fill="#e0e0e0" opacity="1" filter="url(#b1)"/><rect x="159.2" y="140.6" width="30.2" height="1.2" fill="#333" opacity="0.7"/></g>
<rect x="180.8" y="167.5" width="7.0" height="1.5" fill="#f2f2f2"/>
<g clip-path="url(#c32)"><rect x="195.2" y="140.6" width="30.2" height="30.2" fill="#ececec"/><ellipse cx="205.2" cy="148.6" rx="8" ry="7.5" fill="#505050" opacity="1" filter="url(#b2)"/><ellipse cx="214.7" cy="162.1" rx="8" ry="7.5" fill="#383838" opacity="1" filter="url(#b2)"/><ellipse cx="214.7" cy="162.1" rx="5" ry="5" fill="#303030" opacity="1" filter="url(#b1)"/><ellipse cx="196.4" cy="156.6" rx="1.6" ry="14" fill="#5a5a5a" opacity="1" filter="url(#b1)"/><ellipse cx="203.2" cy="158.1" rx="3" ry="2.5" fill="#f4f4f4" opacity="1" filter="url(#b1)"/><ellipse cx="199.2" cy="165.6" rx="4" ry="5" fill="#b0b0b0" opacity="1" filter="url(#b2)"/></g>
<rect x="211" y="167.5" width="13" height="1.5" fill="#f2f2f2"/>
<g clip-path="url(#c03)"><rect x="87" y="176.7" width="30.2" height="30.2" fill="#200000"/></g>
<rect x="101.5" y="203.6" width="13.299999999999997" height="1.5" fill="#f2f2f2"/>
<g clip-path="url(#c13)"><rect x="123" y="176.7" width="30.2" height="30.2" fill="#060000"/><ellipse cx="136.0" cy="190.7" rx="8" ry="8.5" fill="#c81212" opacity="1" filter="url(#b2)"/><ellipse cx="135.0" cy="189.2" rx="4.5" ry="3.5" fill="#ff1c1c" opacity="1" filter="url(#b1)"/><ellipse cx="140.0" cy="196.7" rx="3" ry="3" fill="#a01010" opacity="1" filter="url(#b1)"/><ellipse cx="139.0" cy="181.7" rx="2" ry="1.5" fill="#802040" opacity="1" filter="url(#b1)"/><rect x="129.7" y="200.3" width="1.1" height="1.1" fill="#ff2020" opacity="0.4"/><rect x="129.2" y="198.4" width="1.1" height="1.1" fill="#400000" opacity="0.4"/><rect x="129.2" y="181.9" width="1.0" height="1.0" fill="#400000" opacity="0.4"/><rect x="139.4" y="183.5" width="1.1" height="1.1" fill="#400000" opacity="0.4"/><rect x="143.9" y="186.0" width="0.9" height="0.9" fill="#400000" opacity="0.4"/><rect x="145.2" y="182.7" width="1.0" height="1.0" fill="#ff2020" opacity="0.4"/><rect x="138.3" y="183.3" width="0.9" height="0.9" fill="#400000" opacity="0.4"/><rect x="142.8" y="199.1" width="1.0" height="1.0" fill="#400000" opacity="0.4"/><rect x="145.7" y="194.3" width="1.0" height="1.0" fill="#ff2020" opacity="0.4"/><rect x="138.3" y="188.2" width="1.0" height="1.0" fill="#400000" opacity="0.4"/><rect x="139.2" y="188.4" width="1.1" height="1.1" fill="#ff2020" opacity="0.4"/><rect x="136.0" y="195.4" width="1.1" height="1.1" fill="#ff2020" opacity="0.4"/><rect x="136.9" y="197.9" width="0.9" height="0.9" fill="#ff2020" opacity="0.4"/><rect x="144.9" y="184.0" width="1.2" height="1.2" fill="#400000" opacity="0.4"/><rect x="143.2" y="187.7" width="1.1" height="1.1" fill="#400000" opacity="0.4"/><rect x="137.0" y="189.0" width="1.1" height="1.1" fill="#ff2020" opacity="0.4"/><rect x="132.3" y="188.7" width="0.9" height="0.9" fill="#400000" opacity="0.4"/><rect x="132.5" y="186.7" width="1.1" height="1.1" fill="#400000" opacity="0.4"/><rect x="141.2" y="185.6" width="0.9" height="0.9" fill="#ff2020" opacity="0.4"/><rect x="138.2" y="186.4" width="1.1" height="1.1" fill="#ff2020" opacity="0.4"/><rect x="142.6" y="188.6" width="0.9" height="0.9" fill="#400000" opacity="0.4"/><rect x="138.8" y="189.8" width="0.9" height="0.9" fill="#400000" opacity="0.4"/><rect x="136.0" y="182.8" width="1.1" height="1.1" fill="#400000" opacity="0.4"/><rect x="136.8" y="192.7" width="0.9" height="0.9" fill="#400000" opacity="0.4"/><rect x="140.3" y="185.9" width="1.1" height="1.1" fill="#400000" opacity="0.4"/><rect x="134.2" y="200.6" width="1.0" height="1.0" fill="#ff2020" opacity="0.4"/><rect x="130.1" y="189.7" width="1.1" height="1.1" fill="#ff2020" opacity="0.4"/><rect x="138.5" y="183.7" width="1.0" height="1.0" fill="#400000" opacity="0.4"/><rect x="136.6" y="191.9" width="1.1" height="1.1" fill="#400000" opacity="0.4"/><rect x="134.7" y="182.5" width="0.9" height="0.9" fill="#ff2020" opacity="0.4"/></g>
<rect x="138.6" y="203.6" width="13.599999999999994" height="1.5" fill="#f2f2f2"/>
<g clip-path="url(#c23)"><rect x="159.2" y="176.7" width="30.2" height="30.2" fill="#0c0000"/><g filter="url(#b05)"><circle cx="172.3" cy="197.8" r="1.0" fill="#801010"/><circle cx="165.6" cy="203.5" r="0.8" fill="#801010"/><circle cx="166.0" cy="189.0" r="1.0" fill="#600808"/><circle cx="178.6" cy="189.4" r="1.0" fill="#600808"/><circle cx="168.1" cy="187.8" r="0.6" fill="#500606"/><circle cx="165.4" cy="182.4" r="0.8" fill="#3a0404"/><circle cx="166.0" cy="181.6" r="1.0" fill="#2a0202"/><circle cx="162.8" cy="188.5" r="0.6" fill="#2a0202"/><circle cx="170.8" cy="187.7" r="1.0" fill="#3a0404"/><circle cx="171.9" cy="197.8" r="0.6" fill="#801010"/><circle cx="173.2" cy="180.3" r="1.0" fill="#801010"/><circle cx="161.7" cy="188.3" r="1.0" fill="#801010"/><circle cx="165.8" cy="184.9" r="0.8" fill="#600808"/><circle cx="173.6" cy="183.6" r="0.8" fill="#3a0404"/><circle cx="163.6" cy="180.0" r="0.8" fill="#2a0202"/><circle cx="162.3" cy="187.8" r="1.0" fill="#500606"/><circle cx="164.8" cy="200.1" r="0.6" fill="#500606"/><circle cx="164.4" cy="184.5" r="0.8" fill="#600808"/><circle cx="178.2" cy="179.7" r="1.0" fill="#500606"/><circle cx="175.0" cy="183.5" r="0.8" fill="#600808"/><circle cx="179.7" cy="186.5" r="0.6" fill="#500606"/><circle cx="160.1" cy="191.4" r="1.0" fill="#500606"/><circle cx="167.0" cy="202.8" r="1.0" fill="#2a0202"/><circle cx="169.8" cy="197.3" r="0.8" fill="#2a0202"/><circle cx="164.6" cy="193.0" r="1.0" fill="#2a0202"/><circle cx="162.4" cy="177.6" r="0.8" fill="#3a0404"/><circle cx="163.6" cy="199.4" r="1.0" fill="#500606"/><circle cx="177.0" cy="198.5" r="0.8" fill="#600808"/><circle cx="160.1" cy="193.4" r="1.0" fill="#600808"/><circle cx="163.5" cy="181.5" r="1.0" fill="#3a0404"/><circle cx="169.4" cy="198.9" r="0.6" fill="#3a0404"/><circle cx="170.6" cy="196.8" r="1.0" fill="#500606"/><circle cx="164.6" cy="179.3" r="0.6" fill="#500606"/><circle cx="161.2" cy="197.6" r="1.0" fill="#801010"/><circle cx="167.4" cy="190.4" r="1.0" fill="#801010"/><circle cx="168.5" cy="182.0" r="0.6" fill="#3a0404"/><circle cx="165.1" cy="197.7" r="0.6" fill="#3a0404"/><circle cx="159.9" cy="192.2" r="0.8" fill="#600808"/><circle cx="161.3" cy="200.8" r="0.8" fill="#3a0404"/><circle cx="176.1" cy="190.1" r="1.0" fill="#600808"/><circle cx="172.4" cy="189.9" r="0.6" fill="#3a0404"/><circle cx="166.5" cy="183.6" r="0.8" fill="#2a0202"/><circle cx="161.2" cy="186.2" r="1.0" fill="#3a0404"/><circle cx="170.7" cy="194.6" r="0.8" fill="#3a0404"/><circle cx="159.7" cy="177.5" r="0.8" fill="#500606"/><circle cx="163.3" cy="193.8" r="0.8" fill="#801010"/><circle cx="167.2" cy="203.6" r="0.6" fill="#801010"/><circle cx="171.5" cy="195.8" r="0.6" fill="#500606"/><circle cx="175.9" cy="191.7" r="0.6" fill="#600808"/><circle cx="178.7" cy="194.2" r="1.0" fill="#500606"/><circle cx="168.4" cy="180.5" r="1.0" fill="#500606"/><circle cx="163.9" cy="192.5" r="0.8" fill="#3a0404"/><circle cx="160.7" cy="178.7" r="0.6" fill="#2a0202"/><circle cx="159.6" cy="177.4" r="1.0" fill="#3a0404"/><circle cx="160.4" cy="191.9" r="0.8" fill="#3a0404"/><circle cx="160.2" cy="197.0" r="0.8" fill="#2a0202"/><circle cx="169.5" cy="200.1" r="0.6" fill="#600808"/><circle cx="172.3" cy="179.4" r="1.0" fill="#3a0404"/><circle cx="161.6" cy="197.1" r="0.6" fill="#3a0404"/><circle cx="162.5" cy="188.4" r="1.0" fill="#801010"/><circle cx="162.1" cy="181.6" r="1.0" fill="#600808"/><circle cx="170.0" cy="205.6" r="0.6" fill="#2a0202"/><circle cx="160.6" cy="197.0" r="0.6" fill="#2a0202"/><circle cx="173.2" cy="186.7" r="0.8" fill="#2a0202"/><circle cx="169.0" cy="194.7" r="0.6" fill="#600808"/><circle cx="165.6" cy="198.8" r="0.8" fill="#2a0202"/><circle cx="174.9" cy="182.9" r="0.6" fill="#600808"/><circle cx="174.8" cy="205.4" r="0.8" fill="#500606"/><circle cx="174.3" cy="194.7" r="1.0" fill="#500606"/><circle cx="180.2" cy="178.2" r="0.8" fill="#500606"/><circle cx="167.3" cy="186.3" r="1.0" fill="#500606"/><circle cx="178.4" cy="190.3" r="0.8" fill="#2a0202"/><circle cx="171.1" cy="186.9" r="0.8" fill="#3a0404"/><circle cx="166.9" cy="201.2" r="0.8" fill="#600808"/><circle cx="178.2" cy="188.4" r="1.0" fill="#500606"/><circle cx="162.1" cy="203.1" r="1.0" fill="#3a0404"/><circle cx="172.7" cy="198.5" r="0.6" fill="#801010"/><circle cx="175.3" cy="191.0" r="0.8" fill="#801010"/><circle cx="169.8" cy="189.7" r="0.6" fill="#2a0202"/><circle cx="167.5" cy="196.1" r="1.0" fill="#500606"/><circle cx="178.4" cy="182.5" r="1.0" fill="#3a0404"/><circle cx="179.8" cy="180.8" r="1.0" fill="#3a0404"/><circle cx="161.8" cy="194.5" r="0.8" fill="#801010"/><circle cx="177.2" cy="203.9" r="0.8" fill="#500606"/><circle cx="162.5" cy="197.4" r="1.0" fill="#2a0202"/><circle cx="169.7" cy="195.5" r="1.0" fill="#3a0404"/><circle cx="164.5" cy="177.2" r="0.8" fill="#600808"/><circle cx="170.8" cy="183.1" r="0.6" fill="#600808"/><circle cx="163.4" cy="182.9" r="0.8" fill="#500606"/><circle cx="177.1" cy="202.9" r="0.8" fill="#500606"/><circle cx="174.7" cy="179.5" r="1.0" fill="#600808"/><circle cx="175.5" cy="201.7" r="0.6" fill="#801010"/><circle cx="174.5" cy="176.7" r="1.0" fill="#600808"/><circle cx="176.3" cy="183.9" r="0.6" fill="#600808"/><circle cx="176.4" cy="178.8" r="0.8" fill="#600808"/><circle cx="163.5" cy="181.3" r="0.6" fill="#500606"/><circle cx="178.4" cy="193.4" r="0.6" fill="#2a0202"/><circle cx="168.2" cy="178.4" r="0.8" fill="#600808"/><circle cx="171.3" cy="201.5" r="1.0" fill="#500606"/><circle cx="168.7" cy="182.8" r="0.8" fill="#3a0404"/><circle cx="161.4" cy="203.7" r="0.8" fill="#600808"/><circle cx="175.9" cy="200.1" r="0.6" fill="#600808"/><circle cx="174.9" cy="194.9" r="0.6" fill="#3a0404"/><circle cx="162.8" cy="186.3" r="1.0" fill="#500606"/><circle cx="163.9" cy="178.1" r="0.8" fill="#801010"/><circle cx="170.6" cy="188.9" r="0.8" fill="#801010"/><circle cx="165.3" cy="191.3" r="1.0" fill="#2a0202"/><circle cx="180.2" cy="181.8" r="0.6" fill="#3a0404"/><circle cx="175.6" cy="187.8" r="0.8" fill="#600808"/><circle cx="167.2" cy="192.2" r="0.8" fill="#2a0202"/><circle cx="169.1" cy="197.6" r="1.0" fill="#3a0404"/><circle cx="178.8" cy="186.6" r="1.0" fill="#2a0202"/><circle cx="170.4" cy="177.0" r="0.6" fill="#600808"/><circle cx="163.1" cy="206.1" r="0.6" fill="#500606"/><circle cx="162.9" cy="200.6" r="0.8" fill="#600808"/><circle cx="160.8" cy="192.9" r="0.6" fill="#600808"/><circle cx="177.6" cy="206.1" r="0.6" fill="#2a0202"/><circle cx="162.7" cy="195.9" r="1.0" fill="#2a0202"/><circle cx="166.5" cy="191.2" r="0.6" fill="#2a0202"/><circle cx="173.4" cy="203.0" r="1.0" fill="#3a0404"/><circle cx="161.5" cy="199.6" r="1.0" fill="#3a0404"/><circle cx="163.4" cy="179.8" r="0.6" fill="#600808"/><circle cx="159.8" cy="183.0" r="1.0" fill="#2a0202"/><circle cx="160.0" cy="192.0" r="1.0" fill="#500606"/><circle cx="166.1" cy="190.1" r="1.0" fill="#600808"/><circle cx="175.3" cy="197.6" r="0.6" fill="#500606"/><circle cx="173.9" cy="196.1" r="0.6" fill="#500606"/><circle cx="175.0" cy="189.8" r="1.0" fill="#600808"/><circle cx="168.5" cy="192.4" r="1.0" fill="#2a0202"/><circle cx="162.1" cy="198.6" r="0.8" fill="#600808"/><circle cx="160.8" cy="199.5" r="1.0" fill="#600808"/><circle cx="168.4" cy="188.4" r="1.0" fill="#801010"/><circle cx="165.9" cy="186.8" r="0.6" fill="#600808"/><circle cx="167.0" cy="182.2" r="0.8" fill="#600808"/><circle cx="171.7" cy="188.8" r="1.0" fill="#2a0202"/><circle cx="176.4" cy="204.3" r="1.0" fill="#600808"/><circle cx="159.4" cy="198.7" r="0.8" fill="#3a0404"/><circle cx="172.8" cy="190.4" r="1.0" fill="#801010"/><circle cx="164.5" cy="203.4" r="1.0" fill="#801010"/><circle cx="174.8" cy="200.0" r="1.0" fill="#500606"/><circle cx="177.0" cy="206.7" r="0.6" fill="#3a0404"/><circle cx="176.3" cy="200.2" r="0.8" fill="#500606"/><circle cx="163.5" cy="184.6" r="0.6" fill="#801010"/><circle cx="178.3" cy="184.6" r="0.6" fill="#500606"/><circle cx="172.3" cy="183.8" r="1.0" fill="#801010"/><circle cx="161.7" cy="187.7" r="0.6" fill="#801010"/><circle cx="173.3" cy="176.7" r="0.8" fill="#600808"/><circle cx="169.5" cy="178.0" r="1.0" fill="#600808"/><circle cx="175.6" cy="182.1" r="0.8" fill="#801010"/><circle cx="171.1" cy="186.0" r="1.0" fill="#2a0202"/></g></g>
<rect x="181.2" y="203.6" width="7.0" height="1.5" fill="#f2f2f2"/>
<g clip-path="url(#c33)"><rect x="195.2" y="176.7" width="30.2" height="30.2" fill="#1c0000"/><ellipse cx="205.2" cy="185.7" rx="5.5" ry="5.5" fill="#e01010" opacity="1" filter="url(#b2)"/><ellipse cx="205.2" cy="185.7" rx="3.5" ry="3.5" fill="#ff1c1c" opacity="1" filter="url(#b1)"/><ellipse cx="212.7" cy="198.2" rx="5.5" ry="5.5" fill="#d01010" opacity="1" filter="url(#b2)"/><ellipse cx="212.7" cy="198.2" rx="3.5" ry="3.5" fill="#f01414" opacity="1" filter="url(#b1)"/></g>
<rect x="211" y="203.6" width="13" height="1.5" fill="#f2f2f2"/>
<line x1="340.6" y1="47.2" x2="340.6" y2="192.8" stroke="#000" stroke-width="1.5"/>
<line x1="336" y1="192.2" x2="459.7" y2="192.2" stroke="#000" stroke-width="1.5"/>
<line x1="336" y1="48" x2="340.6" y2="48" stroke="#000" stroke-width="1.4"/>
<text x="334.2" y="51.4" font-size="9.8" text-anchor="end" >1500</text>
<line x1="336" y1="96" x2="340.6" y2="96" stroke="#000" stroke-width="1.4"/>
<text x="334.2" y="99.4" font-size="9.8" text-anchor="end" >1000</text>
<line x1="336" y1="144" x2="340.6" y2="144" stroke="#000" stroke-width="1.4"/>
<text x="334.2" y="147.4" font-size="9.8" text-anchor="end" >500</text>
<text x="334.2" y="195.6" font-size="9.8" text-anchor="end" >0</text>
<line x1="359.85" y1="192.2" x2="359.85" y2="196.6" stroke="#000" stroke-width="1.4"/>
<text x="359.85" y="205.8" font-size="9.8" text-anchor="middle" >1</text>
<line x1="398.45" y1="192.2" x2="398.45" y2="196.6" stroke="#000" stroke-width="1.4"/>
<text x="398.45" y="205.8" font-size="9.8" text-anchor="middle" >2</text>
<line x1="437.25" y1="192.2" x2="437.25" y2="196.6" stroke="#000" stroke-width="1.4"/>
<text x="437.25" y="205.8" font-size="9.8" text-anchor="middle" >3</text>
<text x="376.7" y="220.7" font-size="9.8" textLength="46.6" lengthAdjust="spacingAndGlyphs" >Replating</text>
<text x="0" y="0" font-size="10" transform="translate(306.2,167.4) rotate(-90)" textLength="92" lengthAdjust="spacingAndGlyphs">CFU-C/10,000 cells</text>
<line x1="347.025" y1="117.8" x2="347.025" y2="112.5" stroke="#000" stroke-width="1.35"/>
<line x1="344.825" y1="112.5" x2="349.22499999999997" y2="112.5" stroke="#000" stroke-width="1.35"/>
<rect x="344.00" y="118.42" width="6.05" height="73.55" fill="#e8e8e8" stroke="#000" stroke-width="1.25"/>
<line x1="355.575" y1="64.5" x2="355.575" y2="55.3" stroke="#000" stroke-width="1.35"/>
<line x1="353.375" y1="55.3" x2="357.775" y2="55.3" stroke="#000" stroke-width="1.35"/>
<rect x="352.55" y="65.12" width="6.05" height="126.85" fill="#a8a8a8" stroke="#000" stroke-width="1.25"/>
<path d="M355.57,46.50L355.57,44.00M355.57,46.50L357.95,45.73M355.57,46.50L357.04,48.52M355.57,46.50L354.11,48.52M355.57,46.50L353.20,45.73" stroke="#000" stroke-width="1.25" stroke-linecap="round" fill="none"/>
<line x1="364.125" y1="112" x2="364.125" y2="107.7" stroke="#000" stroke-width="1.35"/>
<line x1="361.925" y1="107.7" x2="366.325" y2="107.7" stroke="#000" stroke-width="1.35"/>
<rect x="361.10" y="112.62" width="6.05" height="79.35" fill="#666666" stroke="#000" stroke-width="1.25"/>
<line x1="372.67499999999995" y1="124" x2="372.67499999999995" y2="114.9" stroke="#000" stroke-width="1.35"/>
<line x1="370.47499999999997" y1="114.9" x2="374.87499999999994" y2="114.9" stroke="#000" stroke-width="1.35"/>
<rect x="369.65" y="124.62" width="6.05" height="67.35" fill="#000000" stroke="#000" stroke-width="1.25"/>
<line x1="386.22499999999997" y1="182.3" x2="386.22499999999997" y2="179.3" stroke="#000" stroke-width="1.35"/>
<line x1="384.025" y1="179.3" x2="388.42499999999995" y2="179.3" stroke="#000" stroke-width="1.35"/>
<rect x="383.65" y="182.93" width="5.15" height="9.05" fill="#e8e8e8" stroke="#000" stroke-width="1.25"/>
<line x1="394.37499999999994" y1="147" x2="394.37499999999994" y2="140.6" stroke="#000" stroke-width="1.35"/>
<line x1="392.17499999999995" y1="140.6" x2="396.57499999999993" y2="140.6" stroke="#000" stroke-width="1.35"/>
<rect x="391.80" y="147.62" width="5.15" height="44.35" fill="#a8a8a8" stroke="#000" stroke-width="1.25"/>
<path d="M394.37,135.70L394.37,133.20M394.37,135.70L396.75,134.93M394.37,135.70L395.84,137.72M394.37,135.70L392.91,137.72M394.37,135.70L392.00,134.93" stroke="#000" stroke-width="1.25" stroke-linecap="round" fill="none"/>
<line x1="402.525" y1="184" x2="402.525" y2="181.4" stroke="#000" stroke-width="1.35"/>
<line x1="400.325" y1="181.4" x2="404.72499999999997" y2="181.4" stroke="#000" stroke-width="1.35"/>
<rect x="399.95" y="184.62" width="5.15" height="7.35" fill="#666666" stroke="#000" stroke-width="1.25"/>
<line x1="410.67499999999995" y1="144.4" x2="410.67499999999995" y2="134.8" stroke="#000" stroke-width="1.35"/>
<line x1="408.47499999999997" y1="134.8" x2="412.87499999999994" y2="134.8" stroke="#000" stroke-width="1.35"/>
<rect x="408.10" y="145.03" width="5.15" height="46.95" fill="#000000" stroke="#000" stroke-width="1.25"/>
<path d="M410.67,127.30L410.67,124.80M410.67,127.30L413.05,126.53M410.67,127.30L412.14,129.32M410.67,127.30L409.21,129.32M410.67,127.30L408.30,126.53" stroke="#000" stroke-width="1.25" stroke-linecap="round" fill="none"/>
<line x1="424.79999999999995" y1="185.4" x2="424.79999999999995" y2="182.5" stroke="#000" stroke-width="1.35"/>
<line x1="422.59999999999997" y1="182.5" x2="426.99999999999994" y2="182.5" stroke="#000" stroke-width="1.35"/>
<rect x="422.02" y="186.03" width="5.55" height="5.95" fill="#e8e8e8" stroke="#000" stroke-width="1.25"/>
<line x1="433.09999999999997" y1="137.5" x2="433.09999999999997" y2="131.9" stroke="#000" stroke-width="1.35"/>
<line x1="430.9" y1="131.9" x2="435.29999999999995" y2="131.9" stroke="#000" stroke-width="1.35"/>
<rect x="430.32" y="138.12" width="5.55" height="53.85" fill="#a8a8a8" stroke="#000" stroke-width="1.25"/>
<path d="M433.10,123.80L433.10,121.30M433.10,123.80L435.48,123.03M433.10,123.80L434.57,125.82M433.10,123.80L431.63,125.82M433.10,123.80L430.72,123.03" stroke="#000" stroke-width="1.25" stroke-linecap="round" fill="none"/>
<line x1="441.4" y1="167.1" x2="441.4" y2="161.4" stroke="#000" stroke-width="1.35"/>
<line x1="439.2" y1="161.4" x2="443.59999999999997" y2="161.4" stroke="#000" stroke-width="1.35"/>
<rect x="438.62" y="167.72" width="5.55" height="24.25" fill="#666666" stroke="#000" stroke-width="1.25"/>
<line x1="449.69999999999993" y1="126.1" x2="449.69999999999993" y2="116.3" stroke="#000" stroke-width="1.35"/>
<line x1="447.49999999999994" y1="116.3" x2="451.8999999999999" y2="116.3" stroke="#000" stroke-width="1.35"/>
<rect x="446.92" y="126.72" width="5.55" height="65.25" fill="#000000" stroke="#000" stroke-width="1.25"/>
<path d="M449.70,109.80L449.70,107.30M449.70,109.80L452.08,109.03M449.70,109.80L451.17,111.82M449.70,109.80L448.23,111.82M449.70,109.80L447.32,109.03" stroke="#000" stroke-width="1.25" stroke-linecap="round" fill="none"/>
<rect x="365.6" y="35.5" width="15.6" height="5.5" rx="0.5" fill="#e8e8e8" stroke="#000" stroke-width="1.6"/>
<text x="389.8" y="41.800000000000004" font-size="9.2" >Ntg; MOCK</text>
<rect x="365.6" y="48.199999999999996" width="15.6" height="5.5" rx="0.5" fill="#a8a8a8" stroke="#000" stroke-width="1.6"/>
<text x="389.8" y="54.5" font-size="9.2" >Ntg; Bmi1</text>
<rect x="365.6" y="61.8" width="15.6" height="5.5" rx="0.5" fill="#666666" stroke="#000" stroke-width="1.6"/>
<text x="389.8" y="68.1" font-size="9.2" >Scl/p210; MOCK</text>
<rect x="365.6" y="75.1" width="15.6" height="5.5" rx="0.5" fill="#000000" stroke="#000" stroke-width="1.6"/>
<text x="389.8" y="81.39999999999999" font-size="9.2" >Scl/p210; Bmi1</text>
<line x1="74.6" y1="281.2" x2="74.6" y2="425.6" stroke="#000" stroke-width="1.5"/>
<line x1="73.89999999999999" y1="425.0" x2="157.6" y2="425.0" stroke="#000" stroke-width="1.5"/>
<line x1="69.6" y1="425.00" x2="74.6" y2="425.00" stroke="#000" stroke-width="1.4"/>
<text x="31.7" y="428.40" font-size="9.2" textLength="28.5" lengthAdjust="spacingAndGlyphs">1.0<tspan font-weight="normal">×</tspan>10</text>
<text x="61.7" y="424.60" font-size="5.4" textLength="5.6" lengthAdjust="spacingAndGlyphs">00</text>
<line x1="69.6" y1="404.54" x2="74.6" y2="404.54" stroke="#000" stroke-width="1.4"/>
<text x="31.7" y="407.94" font-size="9.2" textLength="28.5" lengthAdjust="spacingAndGlyphs">1.0<tspan font-weight="normal">×</tspan>10</text>
<text x="61.7" y="404.14" font-size="5.4" textLength="5.6" lengthAdjust="spacingAndGlyphs">01</text>
<line x1="69.6" y1="384.08" x2="74.6" y2="384.08" stroke="#000" stroke-width="1.4"/>
<text x="31.7" y="387.48" font-size="9.2" textLength="28.5" lengthAdjust="spacingAndGlyphs">1.0<tspan font-weight="normal">×</tspan>10</text>
<text x="61.7" y="383.68" font-size="5.4" textLength="5.6" lengthAdjust="spacingAndGlyphs">02</text>
<line x1="69.6" y1="363.62" x2="74.6" y2="363.62" stroke="#000" stroke-width="1.4"/>
<text x="31.7" y="367.02" font-size="9.2" textLength="28.5" lengthAdjust="spacingAndGlyphs">1.0<tspan font-weight="normal">×</tspan>10</text>
<text x="61.7" y="363.22" font-size="5.4" textLength="5.6" lengthAdjust="spacingAndGlyphs">03</text>
<line x1="69.6" y1="343.16" x2="74.6" y2="343.16" stroke="#000" stroke-width="1.4"/>
<text x="31.7" y="346.56" font-size="9.2" textLength="28.5" lengthAdjust="spacingAndGlyphs">1.0<tspan font-weight="normal">×</tspan>10</text>
<text x="61.7" y="342.76" font-size="5.4" textLength="5.6" lengthAdjust="spacingAndGlyphs">04</text>
<line x1="69.6" y1="322.70" x2="74.6" y2="322.70" stroke="#000" stroke-width="1.4"/>
<text x="31.7" y="326.10" font-size="9.2" textLength="28.5" lengthAdjust="spacingAndGlyphs">1.0<tspan font-weight="normal">×</tspan>10</text>
<text x="61.7" y="322.30" font-size="5.4" textLength="5.6" lengthAdjust="spacingAndGlyphs">05</text>
<line x1="69.6" y1="302.24" x2="74.6" y2="302.24" stroke="#000" stroke-width="1.4"/>
<text x="31.7" y="305.64" font-size="9.2" textLength="28.5" lengthAdjust="spacingAndGlyphs">1.0<tspan font-weight="normal">×</tspan>10</text>
<text x="61.7" y="301.84" font-size="5.4" textLength="5.6" lengthAdjust="spacingAndGlyphs">06</text>
<line x1="69.6" y1="281.78" x2="74.6" y2="281.78" stroke="#000" stroke-width="1.4"/>
<text x="31.7" y="285.18" font-size="9.2" textLength="28.5" lengthAdjust="spacingAndGlyphs">1.0<tspan font-weight="normal">×</tspan>10</text>
<text x="61.7" y="281.38" font-size="5.4" textLength="5.6" lengthAdjust="spacingAndGlyphs">07</text>
<line x1="74.4" y1="425.0" x2="74.4" y2="429.4" stroke="#000" stroke-width="1.4"/>
<text x="74.4" y="439.5" font-size="9.2" text-anchor="middle" >0</text>
<line x1="93.6" y1="425.0" x2="93.6" y2="429.4" stroke="#000" stroke-width="1.4"/>
<text x="93.6" y="439.5" font-size="9.2" text-anchor="middle" >7</text>
<line x1="112.8" y1="425.0" x2="112.8" y2="429.4" stroke="#000" stroke-width="1.4"/>
<text x="112.8" y="439.5" font-size="9.2" text-anchor="middle" >14</text>
<line x1="132.0" y1="425.0" x2="132.0" y2="429.4" stroke="#000" stroke-width="1.4"/>
<text x="132.0" y="439.5" font-size="9.2" text-anchor="middle" >21</text>
<line x1="151.6" y1="425.0" x2="151.6" y2="429.4" stroke="#000" stroke-width="1.4"/>
<text x="151.6" y="439.5" font-size="9.2" text-anchor="middle" >28</text>
<text x="104.6" y="453.5" font-size="9.6" textLength="22.2" lengthAdjust="spacingAndGlyphs" >Days</text>
<text x="0" y="0" font-size="10" transform="translate(7.4,413.6) rotate(-90)" textLength="117.4" lengthAdjust="spacingAndGlyphs">Cumulative cell number</text>
<text x="0" y="0" font-size="10" transform="translate(19.6,396.7) rotate(-90)" textLength="83.7" lengthAdjust="spacingAndGlyphs">(Fold expansion)</text>
<g clip-path="url(#cp)">
<polyline points="74.6,425 83,408.2 93.2,403.6 99.4,408.6 104.6,412.4 110.3,424.6" fill="none" stroke="#d4d4d4" stroke-width="1.5" stroke-linejoin="round"/>
<circle cx="83" cy="408.2" r="2.4" fill="#d4d4d4"/>
<circle cx="93.2" cy="403.6" r="2.4" fill="#d4d4d4"/>
<circle cx="99.4" cy="408.6" r="2.4" fill="#d4d4d4"/>
<circle cx="104.6" cy="412.4" r="2.4" fill="#d4d4d4"/>
<circle cx="110.3" cy="424.6" r="2.4" fill="#d4d4d4"/>
<polyline points="74.6,425 81.6,397.6 93.2,382 98.4,374.4 103.2,358.2 110.9,349.9 126.2,351.9 134.2,356 143,348.4 154.2,344.6" fill="none" stroke="#a6a6a6" stroke-width="1.5" stroke-linejoin="round"/>
<rect x="79.3" y="395.3" width="4.6" height="4.6" fill="#a6a6a6"/>
<rect x="90.9" y="379.7" width="4.6" height="4.6" fill="#a6a6a6"/>
<rect x="96.10000000000001" y="372.09999999999997" width="4.6" height="4.6" fill="#a6a6a6"/>
<rect x="100.9" y="355.9" width="4.6" height="4.6" fill="#a6a6a6"/>
<rect x="108.60000000000001" y="347.59999999999997" width="4.6" height="4.6" fill="#a6a6a6"/>
<rect x="123.9" y="349.59999999999997" width="4.6" height="4.6" fill="#a6a6a6"/>
<rect x="131.89999999999998" y="353.7" width="4.6" height="4.6" fill="#a6a6a6"/>
<rect x="140.7" y="346.09999999999997" width="4.6" height="4.6" fill="#a6a6a6"/>
<rect x="151.89999999999998" y="342.3" width="4.6" height="4.6" fill="#a6a6a6"/>
<polyline points="74.6,425 83,408.8 93.6,413.5 98.6,426" fill="none" stroke="#6a6a6a" stroke-width="1.5" stroke-linejoin="round"/>
<polyline points="104.4,413.1 110.2,419.6 126.8,423.4" fill="none" stroke="#6a6a6a" stroke-width="1.5" stroke-linejoin="round"/>
<polygon points="83,405.8 86,411.1 80,411.1" fill="#6a6a6a"/>
<polygon points="93.6,410.5 96.6,415.8 90.6,415.8" fill="#6a6a6a"/>
<polygon points="104.4,410.1 107.4,415.40000000000003 101.4,415.40000000000003" fill="#6a6a6a"/>
<polygon points="110.2,416.6 113.2,421.90000000000003 107.2,421.90000000000003" fill="#6a6a6a"/>
<polygon points="126.8,420.4 129.8,425.7 123.8,425.7" fill="#6a6a6a"/>
<polyline points="74.6,425 81.8,404.8 94,385.8 99,385.6 104.6,363.6 109.6,335.3 126.7,318.4 134.4,315.7 143.1,303.3 154.1,285.5" fill="none" stroke="#000" stroke-width="1.8" stroke-linejoin="round"/>
<polygon points="74.6,428 77.6,422.7 71.6,422.7" fill="#000"/>
<polygon points="81.8,407.8 84.8,402.5 78.8,402.5" fill="#000"/>
<polygon points="94,388.8 97,383.5 91,383.5" fill="#000"/>
<polygon points="99,388.6 102,383.3 96,383.3" fill="#000"/>
<polygon points="104.6,366.6 107.6,361.3 101.6,361.3" fill="#000"/>
<polygon points="109.6,338.3 112.6,333.0 106.6,333.0" fill="#000"/>
<polygon points="126.7,321.4 129.7,316.09999999999997 123.7,316.09999999999997" fill="#000"/>
<polygon points="134.4,318.7 137.4,313.4 131.4,313.4" fill="#000"/>
<polygon points="143.1,306.3 146.1,301.0 140.1,301.0" fill="#000"/>
<polygon points="154.1,288.5 157.1,283.2 151.1,283.2" fill="#000"/>
</g>
<line x1="124.6" y1="373.1" x2="140.3" y2="373.1" stroke="#d4d4d4" stroke-width="1.5"/>
<circle cx="132.5" cy="373.1" r="2.4" fill="#d4d4d4"/>
<text x="149" y="376.40000000000003" font-size="9.2" >Ntg; MOCK</text>
<line x1="124.6" y1="385.5" x2="140.3" y2="385.5" stroke="#a6a6a6" stroke-width="1.5"/>
<rect x="130.2" y="383.2" width="4.6" height="4.6" fill="#a6a6a6"/>
<text x="149" y="388.8" font-size="9.2" >Ntg; Bmi1</text>
<line x1="124.6" y1="398" x2="140.3" y2="398" stroke="#6a6a6a" stroke-width="1.5"/>
<polygon points="132.5,395 135.5,400.3 129.5,400.3" fill="#6a6a6a"/>
<text x="149" y="401.3" font-size="9.2" >Scl/p210; MOCK</text>
<line x1="124.6" y1="411.9" x2="140.3" y2="411.9" stroke="#000" stroke-width="1.5"/>
<polygon points="132.5,414.9 135.5,409.59999999999997 129.5,409.59999999999997" fill="#000"/>
<text x="149" y="415.2" font-size="9.2" >Scl/p210; Bmi1</text>
<line x1="306.6" y1="283.4" x2="306.6" y2="428.7" stroke="#000" stroke-width="1.5"/>
<line x1="302.3" y1="428.1" x2="519.5" y2="428.1" stroke="#000" stroke-width="1.5"/>
<line x1="302.1" y1="428.10" x2="306.6" y2="428.10" stroke="#000" stroke-width="1.4"/>
<text x="264" y="431.20" font-size="9.2" textLength="29.2" lengthAdjust="spacingAndGlyphs">1.0<tspan font-weight="normal">×</tspan>10</text>
<text x="294.3" y="427.70" font-size="5.4" textLength="5.6" lengthAdjust="spacingAndGlyphs">00</text>
<line x1="302.1" y1="380.10" x2="306.6" y2="380.10" stroke="#000" stroke-width="1.4"/>
<text x="264" y="383.20" font-size="9.2" textLength="29.2" lengthAdjust="spacingAndGlyphs">1.0<tspan font-weight="normal">×</tspan>10</text>
<text x="294.3" y="379.70" font-size="5.4" textLength="5.6" lengthAdjust="spacingAndGlyphs">05</text>
<line x1="302.1" y1="332.10" x2="306.6" y2="332.10" stroke="#000" stroke-width="1.4"/>
<text x="264" y="335.20" font-size="9.2" textLength="29.2" lengthAdjust="spacingAndGlyphs">1.0<tspan font-weight="normal">×</tspan>10</text>
<text x="294.3" y="331.70" font-size="5.4" textLength="5.6" lengthAdjust="spacingAndGlyphs">10</text>
<line x1="302.1" y1="284.10" x2="306.6" y2="284.10" stroke="#000" stroke-width="1.4"/>
<text x="264" y="287.20" font-size="9.2" textLength="29.2" lengthAdjust="spacingAndGlyphs">1.0<tspan font-weight="normal">×</tspan>10</text>
<text x="294.3" y="283.70" font-size="5.4" textLength="5.6" lengthAdjust="spacingAndGlyphs">15</text>
<line x1="321.8" y1="428.1" x2="321.8" y2="432.4" stroke="#000" stroke-width="1.4"/>
<text x="321.8" y="441.8" font-size="9.4" text-anchor="middle" >0</text>
<line x1="351.3" y1="428.1" x2="351.3" y2="432.4" stroke="#000" stroke-width="1.4"/>
<text x="351.3" y="441.8" font-size="9.4" text-anchor="middle" >3</text>
<line x1="380.8" y1="428.1" x2="380.8" y2="432.4" stroke="#000" stroke-width="1.4"/>
<text x="380.8" y="441.8" font-size="9.4" text-anchor="middle" >6</text>
<line x1="410.3" y1="428.1" x2="410.3" y2="432.4" stroke="#000" stroke-width="1.4"/>
<text x="410.3" y="441.8" font-size="9.4" text-anchor="middle" >8</text>
<line x1="439.8" y1="428.1" x2="439.8" y2="432.4" stroke="#000" stroke-width="1.4"/>
<text x="439.8" y="441.8" font-size="9.4" text-anchor="middle" >11</text>
<line x1="469.3" y1="428.1" x2="469.3" y2="432.4" stroke="#000" stroke-width="1.4"/>
<text x="469.3" y="441.8" font-size="9.4" text-anchor="middle" >19</text>
<line x1="498.8" y1="428.1" x2="498.8" y2="432.4" stroke="#000" stroke-width="1.4"/>
<text x="498.8" y="441.8" font-size="9.4" text-anchor="middle" >22</text>
<text x="401.5" y="456.5" font-size="9.6" textLength="22.5" lengthAdjust="spacingAndGlyphs" >Days</text>
<text x="0" y="0" font-size="11" transform="translate(251.3,403.5) rotate(-90)" textLength="94.4" lengthAdjust="spacingAndGlyphs">CFU-C per culture</text>
<line x1="312.1" y1="357.9" x2="312.1" y2="355.9" stroke="#000" stroke-width="1.3"/>
<line x1="310.5" y1="355.9" x2="313.70000000000005" y2="355.9" stroke="#000" stroke-width="1.3"/>
<rect x="310.05" y="358.60" width="4.10" height="69.20" fill="#e8e8e8" stroke="#000" stroke-width="1.4"/>
<rect x="316.25" y="361.60" width="4.10" height="66.20" fill="#a8a8a8" stroke="#000" stroke-width="1.4"/>
<line x1="324.5" y1="355.09999999999997" x2="324.5" y2="352.7" stroke="#000" stroke-width="1.3"/>
<line x1="322.9" y1="352.7" x2="326.1" y2="352.7" stroke="#000" stroke-width="1.3"/>
<rect x="322.45" y="355.80" width="4.10" height="72.00" fill="#666666" stroke="#000" stroke-width="1.4"/>
<line x1="330.70000000000005" y1="355.09999999999997" x2="330.70000000000005" y2="353.0" stroke="#000" stroke-width="1.3"/>
<line x1="329.1" y1="353.0" x2="332.30000000000007" y2="353.0" stroke="#000" stroke-width="1.3"/>
<rect x="328.65" y="355.80" width="4.10" height="72.00" fill="#000000" stroke="#000" stroke-width="1.4"/>
<line x1="341.6" y1="355.7" x2="341.6" y2="353.9" stroke="#000" stroke-width="1.3"/>
<line x1="340.0" y1="353.9" x2="343.20000000000005" y2="353.9" stroke="#000" stroke-width="1.3"/>
<rect x="339.55" y="356.40" width="4.10" height="71.40" fill="#e8e8e8" stroke="#000" stroke-width="1.4"/>
<line x1="347.8" y1="352.9" x2="347.8" y2="351.1" stroke="#000" stroke-width="1.3"/>
<line x1="346.2" y1="351.1" x2="349.40000000000003" y2="351.1" stroke="#000" stroke-width="1.3"/>
<rect x="345.75" y="353.60" width="4.10" height="74.20" fill="#a8a8a8" stroke="#000" stroke-width="1.4"/>
<line x1="354.0" y1="349.7" x2="354.0" y2="347.6" stroke="#000" stroke-width="1.3"/>
<line x1="352.4" y1="347.6" x2="355.6" y2="347.6" stroke="#000" stroke-width="1.3"/>
<rect x="351.95" y="350.40" width="4.10" height="77.40" fill="#666666" stroke="#000" stroke-width="1.4"/>
<line x1="360.20000000000005" y1="346.5" x2="360.20000000000005" y2="344.7" stroke="#000" stroke-width="1.3"/>
<line x1="358.6" y1="344.7" x2="361.80000000000007" y2="344.7" stroke="#000" stroke-width="1.3"/>
<rect x="358.15" y="347.20" width="4.10" height="80.60" fill="#000000" stroke="#000" stroke-width="1.4"/>
<line x1="371.1" y1="358.0" x2="371.1" y2="355.7" stroke="#000" stroke-width="1.3"/>
<line x1="369.5" y1="355.7" x2="372.70000000000005" y2="355.7" stroke="#000" stroke-width="1.3"/>
<rect x="369.05" y="358.70" width="4.10" height="69.10" fill="#e8e8e8" stroke="#000" stroke-width="1.4"/>
<line x1="377.3" y1="347.59999999999997" x2="377.3" y2="345.7" stroke="#000" stroke-width="1.3"/>
<line x1="375.7" y1="345.7" x2="378.90000000000003" y2="345.7" stroke="#000" stroke-width="1.3"/>
<rect x="375.25" y="348.30" width="4.10" height="79.50" fill="#a8a8a8" stroke="#000" stroke-width="1.4"/>
<path d="M377.30,338.80L377.30,336.30M377.30,338.80L379.68,338.03M377.30,338.80L378.77,340.82M377.30,338.80L375.83,340.82M377.30,338.80L374.92,338.03" stroke="#000" stroke-width="1.25" stroke-linecap="round" fill="none"/>
<line x1="383.5" y1="356.5" x2="383.5" y2="354.3" stroke="#000" stroke-width="1.3"/>
<line x1="381.9" y1="354.3" x2="385.1" y2="354.3" stroke="#000" stroke-width="1.3"/>
<rect x="381.45" y="357.20" width="4.10" height="70.60" fill="#666666" stroke="#000" stroke-width="1.4"/>
<line x1="389.70000000000005" y1="341.09999999999997" x2="389.70000000000005" y2="338.9" stroke="#000" stroke-width="1.3"/>
<line x1="388.1" y1="338.9" x2="391.30000000000007" y2="338.9" stroke="#000" stroke-width="1.3"/>
<rect x="387.65" y="341.80" width="4.10" height="86.00" fill="#000000" stroke="#000" stroke-width="1.4"/>
<path d="M389.70,329.20L389.70,326.70M389.70,329.20L392.08,328.43M389.70,329.20L391.17,331.22M389.70,329.20L388.23,331.22M389.70,329.20L387.32,328.43" stroke="#000" stroke-width="1.25" stroke-linecap="round" fill="none"/>
<line x1="400.6" y1="358.9" x2="400.6" y2="357.1" stroke="#000" stroke-width="1.3"/>
<line x1="399.0" y1="357.1" x2="402.20000000000005" y2="357.1" stroke="#000" stroke-width="1.3"/>
<rect x="398.55" y="359.60" width="4.10" height="68.20" fill="#e8e8e8" stroke="#000" stroke-width="1.4"/>
<line x1="406.8" y1="343.7" x2="406.8" y2="341.9" stroke="#000" stroke-width="1.3"/>
<line x1="405.2" y1="341.9" x2="408.40000000000003" y2="341.9" stroke="#000" stroke-width="1.3"/>
<rect x="404.75" y="344.40" width="4.10" height="83.40" fill="#a8a8a8" stroke="#000" stroke-width="1.4"/>
<path d="M406.80,335.20L406.80,332.70M406.80,335.20L409.18,334.43M406.80,335.20L408.27,337.22M406.80,335.20L405.33,337.22M406.80,335.20L404.42,334.43" stroke="#000" stroke-width="1.25" stroke-linecap="round" fill="none"/>
<line x1="413.0" y1="360.7" x2="413.0" y2="358.9" stroke="#000" stroke-width="1.3"/>
<line x1="411.4" y1="358.9" x2="414.6" y2="358.9" stroke="#000" stroke-width="1.3"/>
<rect x="410.95" y="361.40" width="4.10" height="66.40" fill="#666666" stroke="#000" stroke-width="1.4"/>
<line x1="419.20000000000005" y1="339.5" x2="419.20000000000005" y2="337.7" stroke="#000" stroke-width="1.3"/>
<line x1="417.6" y1="337.7" x2="420.80000000000007" y2="337.7" stroke="#000" stroke-width="1.3"/>
<rect x="417.15" y="340.20" width="4.10" height="87.60" fill="#000000" stroke="#000" stroke-width="1.4"/>
<path d="M419.20,329.20L419.20,326.70M419.20,329.20L421.58,328.43M419.20,329.20L420.67,331.22M419.20,329.20L417.73,331.22M419.20,329.20L416.82,328.43" stroke="#000" stroke-width="1.25" stroke-linecap="round" fill="none"/>
<line x1="430.1" y1="371.7" x2="430.1" y2="369.9" stroke="#000" stroke-width="1.3"/>
<line x1="428.5" y1="369.9" x2="431.70000000000005" y2="369.9" stroke="#000" stroke-width="1.3"/>
<rect x="428.05" y="372.40" width="4.10" height="55.40" fill="#e8e8e8" stroke="#000" stroke-width="1.4"/>
<line x1="436.3" y1="340.5" x2="436.3" y2="338.3" stroke="#000" stroke-width="1.3"/>
<line x1="434.7" y1="338.3" x2="437.90000000000003" y2="338.3" stroke="#000" stroke-width="1.3"/>
<rect x="434.25" y="341.20" width="4.10" height="86.60" fill="#a8a8a8" stroke="#000" stroke-width="1.4"/>
<path d="M436.30,330.60L436.30,328.10M436.30,330.60L438.68,329.83M436.30,330.60L437.77,332.62M436.30,330.60L434.83,332.62M436.30,330.60L433.92,329.83" stroke="#000" stroke-width="1.25" stroke-linecap="round" fill="none"/>
<line x1="442.5" y1="359.2" x2="442.5" y2="357.1" stroke="#000" stroke-width="1.3"/>
<line x1="440.9" y1="357.1" x2="444.1" y2="357.1" stroke="#000" stroke-width="1.3"/>
<rect x="440.45" y="359.90" width="4.10" height="67.90" fill="#666666" stroke="#000" stroke-width="1.4"/>
<path d="M442.50,349.40L442.50,346.90M442.50,349.40L444.88,348.63M442.50,349.40L443.97,351.42M442.50,349.40L441.03,351.42M442.50,349.40L440.12,348.63" stroke="#000" stroke-width="1.25" stroke-linecap="round" fill="none"/>
<line x1="448.70000000000005" y1="331.5" x2="448.70000000000005" y2="327.9" stroke="#000" stroke-width="1.3"/>
<line x1="447.1" y1="327.9" x2="450.30000000000007" y2="327.9" stroke="#000" stroke-width="1.3"/>
<rect x="446.65" y="332.20" width="4.10" height="95.60" fill="#000000" stroke="#000" stroke-width="1.4"/>
<text x="458.90" y="425.2" font-size="6.4" text-anchor="middle"><tspan font-weight="normal">&lt;</tspan>1</text>
<line x1="465.8" y1="341.7" x2="465.8" y2="339.9" stroke="#000" stroke-width="1.3"/>
<line x1="464.2" y1="339.9" x2="467.40000000000003" y2="339.9" stroke="#000" stroke-width="1.3"/>
<rect x="463.75" y="342.40" width="4.10" height="85.40" fill="#a8a8a8" stroke="#000" stroke-width="1.4"/>
<path d="M465.80,334.50L465.80,332.00M465.80,334.50L468.18,333.73M465.80,334.50L467.27,336.52M465.80,334.50L464.33,336.52M465.80,334.50L463.42,333.73" stroke="#000" stroke-width="1.25" stroke-linecap="round" fill="none"/>
<text x="471.30" y="425.2" font-size="6.4" text-anchor="middle"><tspan font-weight="normal">&lt;</tspan>1</text>
<line x1="478.20000000000005" y1="312.2" x2="478.20000000000005" y2="309.7" stroke="#000" stroke-width="1.3"/>
<line x1="476.6" y1="309.7" x2="479.80000000000007" y2="309.7" stroke="#000" stroke-width="1.3"/>
<rect x="476.15" y="312.90" width="4.10" height="114.90" fill="#000000" stroke="#000" stroke-width="1.4"/>
<text x="488.40" y="425.2" font-size="6.4" text-anchor="middle"><tspan font-weight="normal">&lt;</tspan>1</text>
<line x1="495.3" y1="344.2" x2="495.3" y2="342.4" stroke="#000" stroke-width="1.3"/>
<line x1="493.7" y1="342.4" x2="496.90000000000003" y2="342.4" stroke="#000" stroke-width="1.3"/>
<rect x="493.25" y="344.90" width="4.10" height="82.90" fill="#a8a8a8" stroke="#000" stroke-width="1.4"/>
<path d="M495.30,335.00L495.30,332.50M495.30,335.00L497.68,334.23M495.30,335.00L496.77,337.02M495.30,335.00L493.83,337.02M495.30,335.00L492.92,334.23" stroke="#000" stroke-width="1.25" stroke-linecap="round" fill="none"/>
<text x="500.80" y="425.2" font-size="6.4" text-anchor="middle"><tspan font-weight="normal">&lt;</tspan>1</text>
<line x1="507.70000000000005" y1="314.5" x2="507.70000000000005" y2="312.0" stroke="#000" stroke-width="1.3"/>
<line x1="506.1" y1="312.0" x2="509.30000000000007" y2="312.0" stroke="#000" stroke-width="1.3"/>
<rect x="505.65" y="315.20" width="4.10" height="112.60" fill="#000000" stroke="#000" stroke-width="1.4"/>
<text x="459.9" y="327.3" font-size="11" text-anchor="middle" >#</text>
<path d="M444.50,321.80L444.50,319.30M444.50,321.80L446.88,321.03M444.50,321.80L445.97,323.82M444.50,321.80L443.03,323.82M444.50,321.80L442.12,321.03" stroke="#000" stroke-width="1.25" stroke-linecap="round" fill="none"/>
<path d="M472.60,300.80L472.60,298.30M472.60,300.80L474.98,300.03M472.60,300.80L474.07,302.82M472.60,300.80L471.13,302.82M472.60,300.80L470.22,300.03" stroke="#000" stroke-width="1.25" stroke-linecap="round" fill="none"/>
<text x="478.1" y="307.4" font-size="8.5" text-anchor="middle" >,</text>
<text x="488" y="306.4" font-size="11" text-anchor="middle" >#</text>
<path d="M501.60,300.80L501.60,298.30M501.60,300.80L503.98,300.03M501.60,300.80L503.07,302.82M501.60,300.80L500.13,302.82M501.60,300.80L499.22,300.03" stroke="#000" stroke-width="1.25" stroke-linecap="round" fill="none"/>
<text x="506.8" y="307.4" font-size="8.5" text-anchor="middle" >,</text>
<text x="516.8" y="306.6" font-size="11" text-anchor="middle" >#</text>
<rect x="316.1" y="271.09999999999997" width="15.6" height="5.5" rx="0.5" fill="#e8e8e8" stroke="#000" stroke-width="1.6"/>
<text x="340.3" y="277.5" font-size="9.2" >Ntg; MOCK</text>
<rect x="316.1" y="283.8" width="15.6" height="5.5" rx="0.5" fill="#a8a8a8" stroke="#000" stroke-width="1.6"/>
<text x="340.3" y="290.20000000000005" font-size="9.2" >Ntg; Bmi1</text>
<rect x="316.1" y="296.9" width="15.6" height="5.5" rx="0.5" fill="#666666" stroke="#000" stroke-width="1.6"/>
<text x="340.3" y="303.3" font-size="9.2" >Scl/p210; MOCK</text>
<rect x="316.1" y="309.8" width="15.6" height="5.5" rx="0.5" fill="#000000" stroke="#000" stroke-width="1.6"/>
<text x="340.3" y="316.20000000000005" font-size="9.2" >Scl/p210; Bmi1</text>
</svg></body></html>
